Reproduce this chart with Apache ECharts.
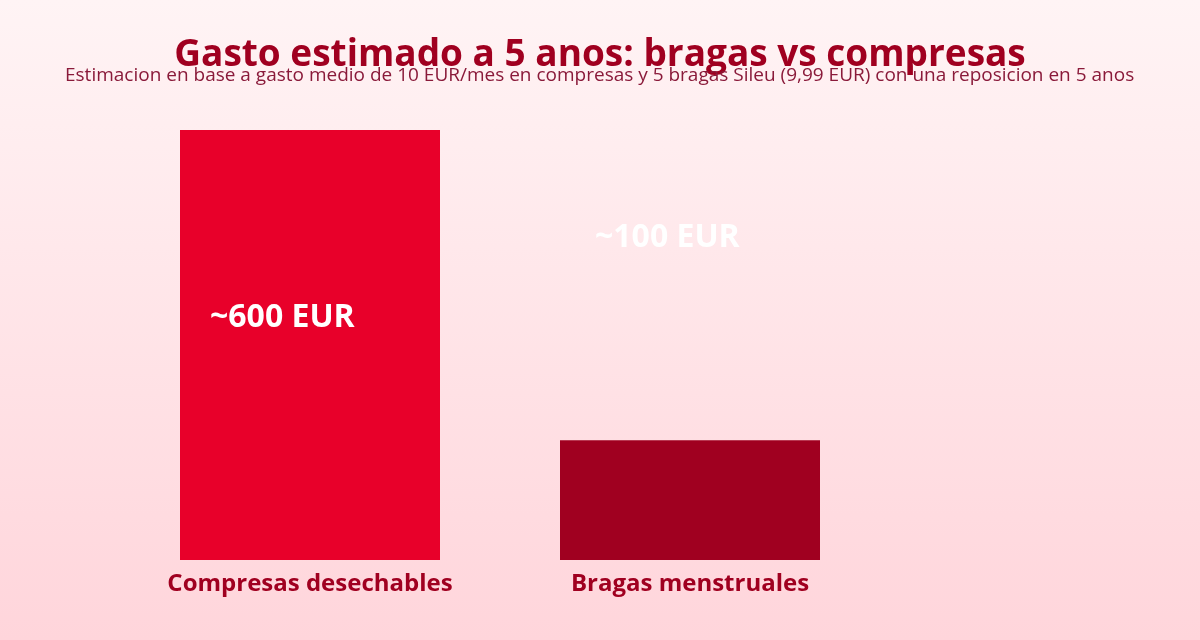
<!DOCTYPE html>
<html><head><meta charset="utf-8">
<script src="https://cdn.jsdelivr.net/npm/echarts@6/dist/echarts.min.js"></script>
<style>html,body{margin:0;padding:0;}#c{width:1200px;height:640px;background:linear-gradient(#fff4f5,#ffd5db);}</style>
</head><body><div id="c"></div>
<script>
const categories = ['Compresas desechables', 'Bragas menstruales'];
const values = [600, 167];
const labels = ['~600 EUR', '~100 EUR'];
const colors = ['#e8002a', '#a00020'];
const labelOffsets = [[25, -27], [30, -262]];
const chart = echarts.init(document.getElementById('c'));
chart.setOption({
  backgroundColor: 'transparent',
  title: [{
    text: 'Gasto estimado a 5 anos: bragas vs compresas',
    left: 'center', top: 32,
    textStyle: {fontFamily: 'Open Sans', fontSize: 37, fontWeight: 'bold', color: '#a00020'}
  }, {
    text: 'Estimacion en base a gasto medio de 10 EUR/mes en compresas y 5 bragas Sileu (9,99 EUR) con una reposicion en 5 anos',
    left: 60, top: 61,
    textStyle: {fontFamily: 'Open Sans', fontSize: 19, fontWeight: 'normal', color: '#8a1a3a'}
  }],
  grid: {left: 120, right: 320, top: 130, bottom: 80},
  xAxis: {
    type: 'category', data: categories,
    axisLine: {show: false}, axisTick: {show: false},
    axisLabel: {fontFamily: 'Open Sans', fontSize: 24, fontWeight: 'bold', color: '#a00020', margin: 12}
  },
  yAxis: {type: 'value', min: 0, max: 600, show: false, splitLine: {show: false}},
  series: [{
    type: 'bar', barWidth: 260,
    data: values.map((v, i) => ({
      value: v,
      itemStyle: {color: colors[i]},
      label: {show: true, position: 'insideLeft', offset: labelOffsets[i], formatter: labels[i],
        fontFamily: 'Open Sans', fontSize: 32, fontWeight: 'bold', color: '#ffffff'}
    }))
  }]
});
</script></body></html>
